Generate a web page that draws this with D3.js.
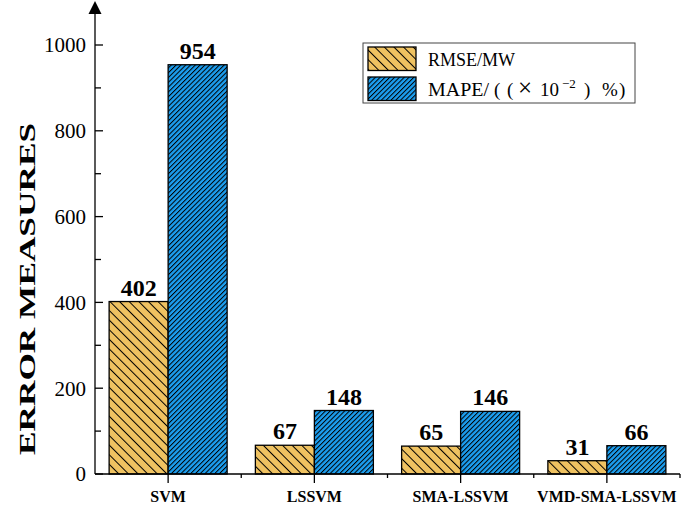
<!DOCTYPE html>
<html>
<head>
<meta charset="utf-8">
<script src="https://cdn.jsdelivr.net/npm/d3@7"></script>
<style>
  body { margin: 0; background: #fff; }
  svg { display: block; font-family: "Liberation Serif", "Times New Roman", serif; }
</style>
</head>
<body>
<svg id="chart" width="696" height="508"></svg>
<script>
const categories = ['SVM', 'LSSVM', 'SMA-LSSVM', 'VMD-SMA-LSSVM'];
const rmse = [402, 67, 65, 31];
const mape = [954, 148, 146, 66];
const seriesNames = ['RMSE/MW', 'MAPE'];
const yTicks = [0, 200, 400, 600, 800, 1000];

const svg = d3.select('#chart');
const x0 = 95, x1 = 680, yTop = 45, yBase = 474;

const x = d3.scaleBand().domain(categories).range([x0, x1]).padding(0);
const y = d3.scaleLinear().domain([0, 1000]).range([yBase, yTop]);
const barW = 59;

// hatch patterns
const defs = svg.append('defs');
function hatch(id, color, gap, angle) {
  const p = defs.append('pattern')
    .attr('id', id)
    .attr('patternUnits', 'userSpaceOnUse')
    .attr('width', gap).attr('height', gap)
    .attr('patternTransform', `rotate(${angle})`);
  p.append('rect').attr('width', gap).attr('height', gap).attr('fill', color);
  p.append('line')
    .attr('x1', 0.5).attr('y1', 0).attr('x2', 0.5).attr('y2', gap)
    .attr('stroke', '#000').attr('stroke-width', 1);
}
hatch('hRmse', '#EFC261', 6.8, -45);
hatch('hMape', '#1C9EEF', 3.4, 45);

const series = [
  { key: 'rmse', values: rmse, fill: 'url(#hRmse)', off: -barW },
  { key: 'mape', values: mape, fill: 'url(#hMape)', off: 0 }
];

const center = d => x(d) + x.bandwidth() / 2;

// bars
series.forEach(s => {
  const g = svg.append('g').attr('class', 'bars-' + s.key);
  g.selectAll('rect')
    .data(categories)
    .enter()
    .append('rect')
    .attr('x', d => center(d) + s.off)
    .attr('y', (d, i) => y(s.values[i]))
    .attr('width', barW)
    .attr('height', (d, i) => yBase - y(s.values[i]))
    .attr('fill', s.fill)
    .attr('stroke', '#000')
    .attr('stroke-width', 1.3);
  g.selectAll('text')
    .data(categories)
    .enter()
    .append('text')
    .attr('x', d => center(d) + s.off + barW / 2)
    .attr('y', (d, i) => y(s.values[i]) - 6)
    .attr('text-anchor', 'middle')
    .attr('font-weight', 'bold')
    .attr('font-size', 24)
    .text((d, i) => s.values[i]);
});

// y axis
const axis = svg.append('g').attr('stroke', '#000').attr('stroke-width', 1.3);
axis.append('line').attr('x1', x0).attr('x2', x0).attr('y1', yBase).attr('y2', 10);
axis.append('path').attr('d', `M${x0},1 L${x0 - 6.5},14 L${x0 + 6.5},14 Z`).attr('fill', '#000').attr('stroke', 'none');
const minorY = d3.range(100, 1000, 200);
axis.selectAll('.ymaj').data(yTicks).enter().append('line')
  .attr('x1', x0).attr('x2', x0 + 8).attr('y1', d => y(d)).attr('y2', d => y(d));
axis.selectAll('.ymin').data(minorY).enter().append('line')
  .attr('x1', x0).attr('x2', x0 + 6).attr('y1', d => y(d)).attr('y2', d => y(d));
svg.append('g').selectAll('text').data(yTicks).enter().append('text')
  .attr('x', 86).attr('y', d => y(d)).attr('dy', '0.35em')
  .attr('text-anchor', 'end').attr('font-size', 21)
  .text(d => d);

// x axis
axis.append('line').attr('x1', x0).attr('x2', x1).attr('y1', yBase).attr('y2', yBase);
axis.selectAll('.xmaj').data(categories).enter().append('line')
  .attr('x1', d => center(d)).attr('x2', d => center(d))
  .attr('y1', yBase).attr('y2', yBase + 9);
axis.selectAll('.xmin').data(categories.slice(1).map(d => x(d)).concat([x1])).enter().append('line')
  .attr('x1', d => d).attr('x2', d => d)
  .attr('y1', yBase).attr('y2', yBase + 4);
svg.append('g').selectAll('text').data(categories).enter().append('text')
  .attr('x', d => center(d)).attr('y', 502)
  .attr('text-anchor', 'middle').attr('font-weight', 'bold').attr('font-size', 16)
  .text(d => d);

// y title
svg.append('text')
  .attr('transform', 'translate(35,289) rotate(-90)')
  .attr('text-anchor', 'middle')
  .attr('font-weight', 'bold').attr('font-size', 24)
  .attr('textLength', 332).attr('lengthAdjust', 'spacingAndGlyphs')
  .text('ERROR MEASURES');

// legend
const lg = svg.append('g');
lg.append('rect').attr('x', 363).attr('y', 43).attr('width', 272).attr('height', 60)
  .attr('fill', '#fff').attr('stroke', '#444').attr('stroke-width', 1);
const legendItems = [
  { fill: 'url(#hRmse)', y: 47 },
  { fill: 'url(#hMape)', y: 77 }
];
lg.selectAll('rect.sw').data(legendItems).enter().append('rect')
  .attr('class', 'sw')
  .attr('x', 368).attr('y', d => d.y).attr('width', 48).attr('height', 23.5)
  .attr('fill', d => d.fill).attr('stroke', '#000').attr('stroke-width', 1.3);
lg.append('text').attr('x', 428).attr('y', 65.5).attr('font-size', 19)
  .attr('textLength', 87).attr('lengthAdjust', 'spacingAndGlyphs').text(seriesNames[0]);
const t2 = lg.append('text').attr('y', 96).attr('font-size', 19);
t2.append('tspan').attr('x', 428).attr('textLength', 61).attr('lengthAdjust', 'spacingAndGlyphs')
  .text(seriesNames[1] + '/');
t2.append('tspan').attr('x', 494).text('(');
t2.append('tspan').attr('x', 507).text('(');
t2.append('tspan').attr('x', 518).attr('font-size', 25).text('×');
t2.append('tspan').attr('x', 540).text('10');
t2.append('tspan').attr('x', 562).attr('font-size', 13).attr('dy', -8).text('−2');
t2.append('tspan').attr('x', 584).attr('dy', 8).text(')');
t2.append('tspan').attr('x', 602).text('%');
t2.append('tspan').attr('x', 619).text(')');
</script>
</body>
</html>
